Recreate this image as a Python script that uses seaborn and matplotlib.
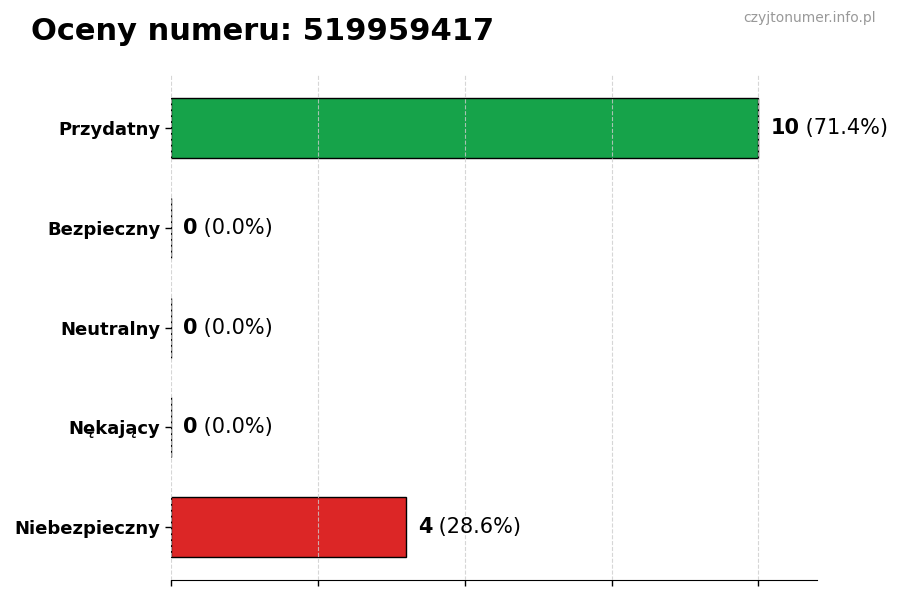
import matplotlib
matplotlib.use("Agg")
import matplotlib.pyplot as plt
import seaborn as sns
import pandas as pd

categories = ["Przydatny", "Bezpieczny", "Neutralny", "Nękający", "Niebezpieczny"]
values = [10, 0, 0, 0, 4]
colors = ["#16a34a", "#22c55e", "#9ca3af", "#f97316", "#dc2626"]
title = "Oceny numeru: 519959417"
watermark = "czyjtonumer.info.pl"

total = sum(values)
df = pd.DataFrame({"cat": categories, "val": values})

sns.set_style("white")
plt.rcParams["font.family"] = ["DejaVu Sans"]
plt.rcParams["text.color"] = "black"
plt.rcParams["xtick.color"] = "black"
plt.rcParams["ytick.color"] = "black"
plt.rcParams["axes.labelcolor"] = "black"

fig = plt.figure(figsize=(9, 6), dpi=100)
ax = fig.add_axes([0.19, 0.033, 0.718, 0.842])

sns.barplot(data=df, x="val", y="cat", hue="cat", palette=colors, orient="h",
            width=0.6, edgecolor="black", linewidth=1, legend=False,
            saturation=1, ax=ax)

ax.set_xlim(0, 11)
ax.set_ylim(len(categories) - 1 + 0.53, -0.53)
ax.set_xticks([0, 2.5, 5, 7.5, 10])
ax.set_xticklabels([])
ax.set_xlabel("")
ax.set_ylabel("")
ax.grid(axis="x", linestyle="--", color="#cccccc", linewidth=0.8, alpha=0.8)
ax.grid(axis="y", visible=False)
ax.set_axisbelow(False)
for s in ["top", "right", "left"]:
    ax.spines[s].set_visible(False)
ax.spines["bottom"].set_color("black")
ax.tick_params(axis="both", which="both", length=4, color="black", width=1,
               bottom=True, left=True, labelcolor="black")
for lab in ax.get_yticklabels():
    lab.set_fontweight("bold")
    lab.set_fontsize(13)
    lab.set_color("black")

fig.canvas.draw()
renderer = fig.canvas.get_renderer()
for i, v in enumerate(values):
    pct = 100 * v / total if total else 0
    t1 = ax.text(v + 0.2, i, f"{v}", fontsize=15, fontweight="bold",
                 va="center", ha="left", color="black")
    bb = t1.get_window_extent(renderer=renderer)
    inv = ax.transData.inverted()
    x_end = inv.transform((bb.x1, bb.y0))[0]
    ax.text(x_end, i, f" ({pct:.1f}%)", fontsize=15, va="center", ha="left",
            color="black")

fig.text(0.034, 0.947, title, fontsize=22, fontweight="bold", ha="left",
         va="center", color="black")
fig.text(0.973, 0.970, watermark, fontsize=10, color="#999999", ha="right", va="center")

fig.savefig("out.png", dpi=100)
